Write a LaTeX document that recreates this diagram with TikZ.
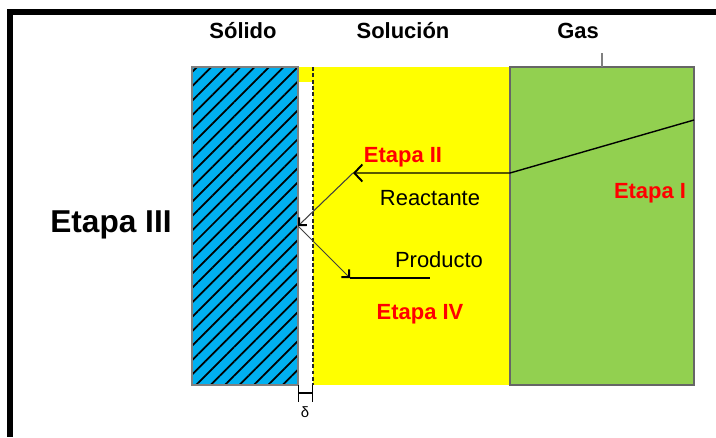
\documentclass[tikz,border=0pt]{standalone}
\usepackage{fontspec}
\setmainfont{Liberation Sans}
\usetikzlibrary{calc,patterns.meta,arrows.meta,positioning}
\definecolor{solidblue}{RGB}{0,176,240}
\definecolor{solnyellow}{RGB}{255,255,0}
\definecolor{gasgreen}{RGB}{146,208,80}
\definecolor{etapared}{RGB}{255,0,0}
\begin{document}
\begin{tikzpicture}[x=0.02cm,y=-0.02cm,{head/.style={font=\bfseries\fontsize{12.5}{15}\selectfont,anchor=base}},{etapa/.style={head,text=etapared}},{species/.style={font=\fontsize{12.5}{15}\selectfont,anchor=base}},{flux/.style={color=black!75,line width=0.6pt,-{Straight Barb[length=1.1mm,width=2.2mm,line width=1.1pt,color=black]}}}]
	\useasboundingbox (0,0) rectangle (716,437);
	%%frame
	\fill (7,9) rectangle (716,15);
	\fill (7,9) rectangle (13,437);
	%%corners of the phases
	\coordinate (S1) at (192,67);
	\coordinate (S2) at (298,385);
	\coordinate (F) at (313,67);
	\coordinate (L1) at (510,67);
	\coordinate (L2) at (510,385);
	\coordinate (G2) at (694,385);
	%%solution with the film
	\fill [solnyellow] (S2 |- S1) rectangle (L2);
	\fill [white] ($(S2 |- S1)+(0,15)$) rectangle (F |- S2);
	\draw [black!85,line width=0.6pt,dash pattern=on 2.2pt off 1.4pt] (F) -- (F |- S2);
	%%solid
	\draw [gray,line width=0.9pt,preaction={fill=solidblue},pattern={Lines[angle=45,distance=5.8pt,line width=1pt]},pattern color=black] (S1) rectangle (S2);
	%%gas
	\draw [fill=gasgreen,draw=black!60,line width=0.9pt] (L1) rectangle (G2);
	\draw [gray,line width=0.9pt] ($(L1)!0.5!(L1 -| G2)$) -- ++(0,-14);
	%%concentration profile and fluxes
	\coordinate (Gi) at (694,120);
	\coordinate (Ig) at (510,173);
	\coordinate (R) at (353,173);
	\coordinate (W) at (298,226);
	\coordinate (P) at (350,278);
	\coordinate (Pe) at (430,278);
	\draw [line width=0.8pt,-{Straight Barb[length=1.6mm,width=3.4mm,line width=1.1pt]}] (Gi) -- (Ig) -- (R);
	\draw [flux] (R) -- (W);
	\draw [flux] (W) -- (P);
	\draw [line width=0.8pt] (P) -- (Pe);
	%%film thickness
	\draw [{Bar[width=3.4mm]}-{Bar[width=3.4mm]},line width=0.6pt] ($(S2)+(0,8)$) -- ($(F |- S2)+(0,8)$);
	\node [font=\fontsize{8.5}{9}\selectfont] (delta) at (305,412) {δ};
	%%labels
	\node [head] (solido) at (243,38) {Sólido};
	\node [head] (solucion) at (403,38) {Solución};
	\node [head] (gas) at (578,38) {Gas};
	\node [font=\bfseries\fontsize{18}{21}\selectfont,anchor=base] (etapa3) at (111,232) {Etapa III};
	\node [etapa] (etapa2) at (403,162) {Etapa II};
	\node [etapa] (etapa1) at (650,198) {Etapa I};
	\node [etapa] (etapa4) at (420,319) {Etapa IV};
	\node [species] (reactante) at (430,205) {Reactante};
	\node [species] (producto) at (439,267) {Producto};
\end{tikzpicture}
\end{document}
